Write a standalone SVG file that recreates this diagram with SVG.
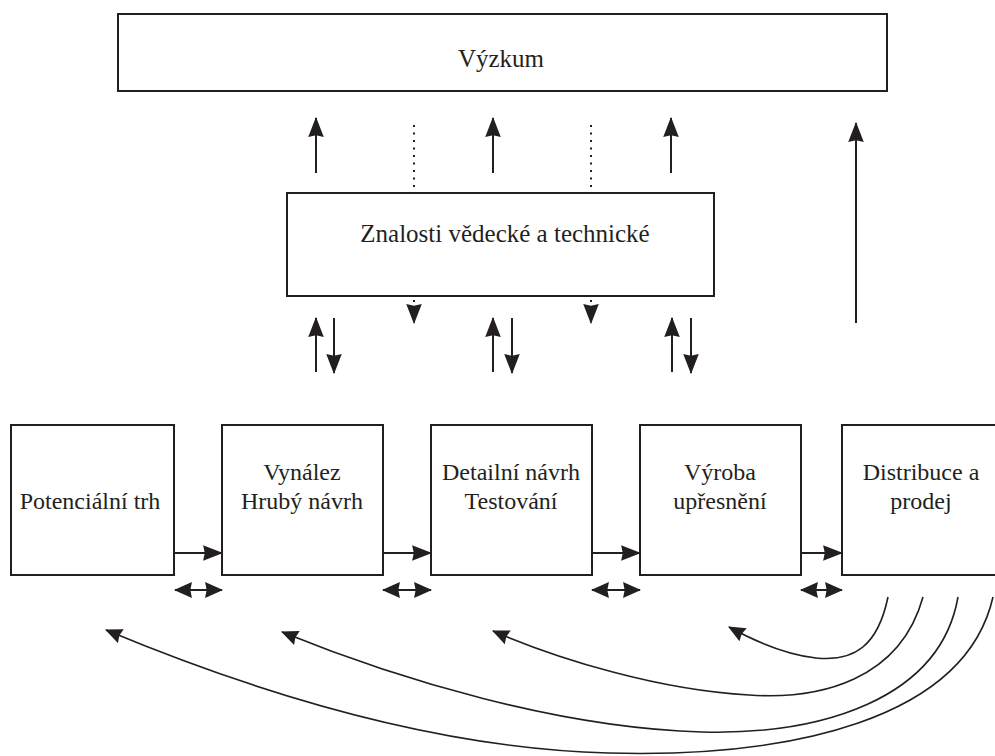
<svg xmlns="http://www.w3.org/2000/svg" width="995" height="756" viewBox="0 0 995 756">
<defs>
<style>
.box{fill:#fff;stroke:#231f20;stroke-width:2}
.t{font-family:'Liberation Serif','Times New Roman',serif;font-size:24px;fill:#231f20;text-anchor:middle}
.tl{font-size:25px}
.a{fill:none;stroke:#231f20;stroke-width:2}
.c{fill:none;stroke:#231f20;stroke-width:1.6}
.d{fill:none;stroke:#231f20;stroke-width:2;stroke-dasharray:2 5.5}
</style>
<marker id="ah" markerUnits="userSpaceOnUse" markerWidth="20" markerHeight="16" viewBox="0 0 18 14" refX="17" refY="7" orient="auto-start-reverse">
<path d="M0,0 L18,7 L0,14 L1.5,7 z" fill="#231f20"/>
</marker>
<marker id="ahd" markerUnits="userSpaceOnUse" markerWidth="18" markerHeight="16" viewBox="0 0 17 15" refX="16" refY="7.5" orient="auto-start-reverse">
<path d="M0,0 L17,7.5 L0,15 L1.5,7.5 z" fill="#231f20"/>
</marker>
<marker id="ahs" markerUnits="userSpaceOnUse" markerWidth="18" markerHeight="15" viewBox="0 0 16 14" refX="15" refY="7" orient="auto-start-reverse">
<path d="M0,0 L16,7 L0,14 L1.5,7 z" fill="#231f20"/>
</marker>
</defs>
<rect width="995" height="756" fill="#fff"/>

<g id="vyzkum">
<rect class="box" x="118" y="14" width="769" height="77"/>
<text class="t tl" x="501" y="67">Výzkum</text>
</g>

<g id="znalosti">
<rect class="box" x="287" y="193" width="427" height="103"/>
<text class="t tl" x="505" y="242">Znalosti vědecké a technické</text>
</g>

<g id="trh">
<rect class="box" x="11" y="425" width="163" height="150"/>
<text class="t" x="90" y="509">Potenciální trh</text>
</g>

<g id="vynalez">
<rect class="box" x="222" y="425" width="161" height="150"/>
<text class="t" x="302" y="480">Vynález</text>
<text class="t" x="302" y="509">Hrubý návrh</text>
</g>

<g id="detail">
<rect class="box" x="431" y="425" width="161" height="150"/>
<text class="t" x="511" y="480">Detailní návrh</text>
<text class="t" x="511" y="509">Testování</text>
</g>

<g id="vyroba">
<rect class="box" x="640" y="425" width="161" height="150"/>
<text class="t" x="720" y="480">Výroba</text>
<text class="t" x="720" y="509">upřesnění</text>
</g>

<g id="distribuce">
<path d="M995,425 H842 V575 H995" fill="#fff" stroke="#231f20" stroke-width="2"/>
<text class="t" x="921" y="480">Distribuce a</text>
<text class="t" x="921" y="509">prodej</text>
</g>

<g id="connectors">
<line class="a" x1="316" y1="173" x2="316" y2="118" marker-end="url(#ah)"/>
<line class="a" x1="493" y1="173" x2="493" y2="118" marker-end="url(#ah)"/>
<line class="a" x1="671" y1="173" x2="671" y2="118" marker-end="url(#ah)"/>
<line class="a" x1="856" y1="323" x2="856" y2="123" marker-end="url(#ah)"/>
<line class="d" x1="414" y1="125" x2="414" y2="188"/>
<line class="d" x1="591" y1="125" x2="591" y2="188"/>
<line class="d" x1="414" y1="300" x2="414" y2="323" marker-end="url(#ah)"/>
<line class="d" x1="591" y1="300" x2="591" y2="323" marker-end="url(#ah)"/>
<line class="a" x1="316" y1="372" x2="316" y2="318" marker-end="url(#ah)"/>
<line class="a" x1="334" y1="318" x2="334" y2="373" marker-end="url(#ah)"/>
<line class="a" x1="493" y1="372" x2="493" y2="318" marker-end="url(#ah)"/>
<line class="a" x1="512" y1="318" x2="512" y2="373" marker-end="url(#ah)"/>
<line class="a" x1="672" y1="372" x2="672" y2="318" marker-end="url(#ah)"/>
<line class="a" x1="691" y1="318" x2="691" y2="373" marker-end="url(#ah)"/>
<line class="a" x1="174" y1="553" x2="222" y2="553" marker-end="url(#ah)"/>
<line class="a" x1="383" y1="553" x2="431" y2="553" marker-end="url(#ah)"/>
<line class="a" x1="592" y1="553" x2="640" y2="553" marker-end="url(#ah)"/>
<line class="a" x1="801" y1="553" x2="842" y2="553" marker-end="url(#ah)"/>
<line class="a" x1="175" y1="590" x2="222" y2="590" marker-start="url(#ahd)" marker-end="url(#ahd)"/>
<line class="a" x1="383" y1="590" x2="431" y2="590" marker-start="url(#ahd)" marker-end="url(#ahd)"/>
<line class="a" x1="592" y1="590" x2="640" y2="590" marker-start="url(#ahd)" marker-end="url(#ahd)"/>
<line class="a" x1="801" y1="590" x2="842" y2="590" marker-start="url(#ahd)" marker-end="url(#ahd)"/>
<path class="c" d="M888,597 C878,645 855,662 816,658 C790,655 758,643 729,627" marker-end="url(#ahs)"/>
<path class="c" d="M923,597 C900,680 820,700 749,695 C660,690 560,660 493,631" marker-end="url(#ahs)"/>
<path class="c" d="M958,597 C940,700 820,735 702,732 C560,728 400,680 282,632" marker-end="url(#ahs)"/>
<path class="c" d="M993,597 C965,720 790,758 608,753 C430,748 250,690 106,630" marker-end="url(#ahs)"/>
</g>
</svg>
